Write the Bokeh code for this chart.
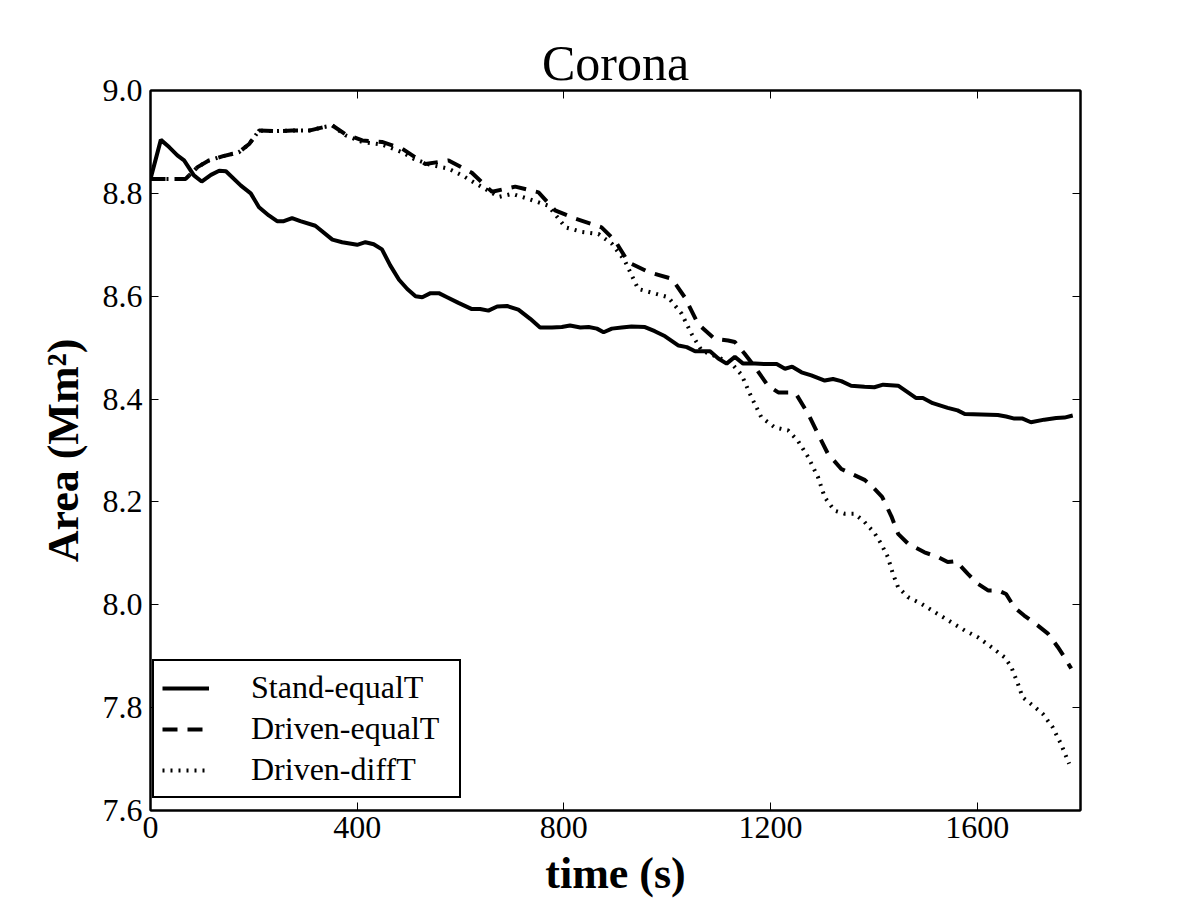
from bokeh.plotting import figure
from bokeh.models import (Range1d, FixedTicker, LinearAxis, NumeralTickFormatter,
                          Legend, LegendItem, ColumnDataSource)
from bokeh.embed import file_html
from bokeh.resources import INLINE

# Coronal area (Mm^2) versus time (s) for three simulation runs
stand_t = [0, 20, 36, 52, 65, 84, 99, 117, 133, 146, 175, 194, 210, 229, 245, 258, 274, 290,
           319, 352, 371, 400, 416, 432, 448, 464, 481, 497, 513, 526, 542, 558, 574, 596,
           622, 638, 654, 671, 690, 712, 735, 754, 777, 796, 812, 832, 848, 864, 877, 893,
           912, 931, 957, 976, 996, 1022, 1038, 1054, 1083, 1099, 1115, 1131, 1147, 1170,
           1189, 1212, 1228, 1242, 1260, 1279, 1305, 1321, 1337, 1356, 1382, 1401, 1418,
           1447, 1466, 1482, 1495, 1514, 1543, 1562, 1576, 1608, 1640, 1656, 1672, 1688,
           1704, 1730, 1753, 1769, 1785]
stand_area = [8.828, 8.904, 8.890, 8.874, 8.864, 8.835, 8.823, 8.836, 8.844, 8.843, 8.815,
              8.800, 8.773, 8.757, 8.746, 8.746, 8.752, 8.746, 8.737, 8.710, 8.705, 8.700,
              8.705, 8.701, 8.691, 8.660, 8.632, 8.614, 8.600, 8.598, 8.606, 8.606, 8.598,
              8.587, 8.575, 8.575, 8.572, 8.580, 8.581, 8.574, 8.556, 8.539, 8.539, 8.540,
              8.543, 8.539, 8.540, 8.537, 8.530, 8.537, 8.539, 8.541, 8.540, 8.532, 8.522,
              8.504, 8.501, 8.493, 8.493, 8.479, 8.469, 8.482, 8.469, 8.469, 8.468, 8.468,
              8.459, 8.463, 8.452, 8.446, 8.436, 8.439, 8.435, 8.426, 8.424, 8.423, 8.428,
              8.426, 8.413, 8.402, 8.402, 8.392, 8.383, 8.378, 8.371, 8.370, 8.369, 8.366,
              8.362, 8.362, 8.355, 8.360, 8.363, 8.364, 8.368]

driven_eq_t = [0, 68, 91, 113, 139, 171, 191, 210, 242, 274, 307, 336, 352, 377, 410, 448,
               487, 532, 577, 622, 661, 706, 751, 783, 822, 873, 899, 925, 964, 1009, 1034,
               1060, 1092, 1118, 1131, 1150, 1170, 1195, 1215, 1241, 1250, 1273, 1292, 1311,
               1337, 1356, 1382, 1395, 1416, 1434, 1447, 1466, 1498, 1524, 1543, 1559, 1582,
               1601, 1621, 1640, 1656, 1672, 1691, 1717, 1737, 1756, 1769, 1782]
driven_eq_area = [8.828, 8.828, 8.851, 8.864, 8.872, 8.880, 8.896, 8.922, 8.921, 8.922,
                  8.922, 8.929, 8.932, 8.915, 8.903, 8.900, 8.887, 8.857, 8.864, 8.840,
                  8.803, 8.813, 8.802, 8.767, 8.751, 8.734, 8.708, 8.666, 8.647, 8.634,
                  8.598, 8.546, 8.517, 8.514, 8.511, 8.488, 8.462, 8.426, 8.413, 8.413,
                  8.409, 8.371, 8.332, 8.294, 8.264, 8.255, 8.243, 8.232, 8.210, 8.172,
                  8.138, 8.119, 8.102, 8.093, 8.083, 8.085, 8.060, 8.041, 8.028, 8.028,
                  8.021, 7.995, 7.979, 7.960, 7.944, 7.918, 7.898, 7.876]

driven_diff_t = [0, 68, 91, 113, 139, 171, 191, 210, 242, 274, 307, 336, 352, 377, 410, 448,
                 487, 510, 540, 577, 603, 642, 674, 700, 732, 770, 803, 835, 867, 893, 918,
                 944, 977, 1002, 1028, 1047, 1067, 1099, 1125, 1144, 1163, 1182, 1208, 1234,
                 1253, 1273, 1292, 1305, 1324, 1344, 1363, 1382, 1401, 1414, 1427, 1437,
                 1447, 1466, 1492, 1524, 1550, 1576, 1601, 1627, 1653, 1666, 1679, 1688,
                 1708, 1727, 1746, 1762, 1778]
driven_diff_area = [8.828, 8.828, 8.851, 8.864, 8.872, 8.880, 8.896, 8.922, 8.921, 8.922,
                    8.922, 8.929, 8.932, 8.913, 8.900, 8.895, 8.880, 8.867, 8.856, 8.848,
                    8.835, 8.812, 8.793, 8.799, 8.789, 8.776, 8.734, 8.725, 8.721, 8.702,
                    8.669, 8.614, 8.605, 8.598, 8.566, 8.527, 8.494, 8.481, 8.469, 8.447,
                    8.404, 8.365, 8.345, 8.339, 8.319, 8.287, 8.248, 8.209, 8.183, 8.177,
                    8.177, 8.161, 8.140, 8.119, 8.093, 8.060, 8.034, 8.015, 8.002, 7.982,
                    7.966, 7.950, 7.937, 7.918, 7.898, 7.879, 7.846, 7.820, 7.804, 7.788,
                    7.762, 7.730, 7.691]

series_labels = ["Stand-equalT", "Driven-equalT", "Driven-diffT"]
x_ticks = [0, 400, 800, 1200, 1600]
y_ticks = [7.6, 7.8, 8.0, 8.2, 8.4, 8.6, 8.8, 9.0]

SERIF = "Liberation Serif"

p = figure(width=1200, height=900, output_backend="svg", toolbar_location=None,
           x_range=Range1d(0, 1800), y_range=Range1d(7.6, 9.0),
           min_border_left=150, min_border_right=120, min_border_top=90,
           min_border_bottom=90, title="Corona")

p.background_fill_color = "white"
p.border_fill_color = "white"
p.outline_line_color = "black"
p.outline_line_width = 2
p.xgrid.visible = False
p.ygrid.visible = False

p.title.text_font = SERIF
p.title.text_font_size = "50px"
p.title.text_font_style = "normal"
p.title.align = "center"
p.title.text_color = "black"
p.title.standoff = 0

p.xaxis.ticker = FixedTicker(ticks=x_ticks)
p.yaxis.ticker = FixedTicker(ticks=y_ticks)
p.yaxis.formatter = NumeralTickFormatter(format="0.0")
p.xaxis.axis_label = "time (s)"
p.yaxis.axis_label = "Area (Mm²)"

for ax in (p.xaxis[0], p.yaxis[0]):
    ax.axis_line_width = 2
    ax.axis_line_color = "black"
    ax.major_tick_in = 8
    ax.major_tick_out = 0
    ax.major_tick_line_width = 1
    ax.minor_tick_line_color = None
    ax.major_label_text_font = SERIF
    ax.major_label_text_font_size = "32px"
    ax.major_label_text_color = "black"
    ax.axis_label_text_font = SERIF
    ax.axis_label_text_font_size = "44px"
    ax.axis_label_text_font_style = "bold"
    ax.axis_label_text_color = "black"
p.xaxis.major_label_standoff = 6
p.xaxis.axis_label_standoff = 8
p.yaxis.major_label_standoff = 8
p.yaxis.axis_label_standoff = 12

# mirrored ticks on the top and right edges of the frame, without labels
top_axis = LinearAxis(ticker=FixedTicker(ticks=x_ticks), major_tick_in=8, major_tick_out=0,
                      minor_tick_line_color=None, major_label_text_color=None,
                      major_label_standoff=0, axis_line_width=2)
right_axis = LinearAxis(ticker=FixedTicker(ticks=y_ticks), major_tick_in=8, major_tick_out=0,
                        minor_tick_line_color=None, major_label_text_color=None,
                        major_label_standoff=0, axis_line_width=2)
p.add_layout(top_axis, "above")
p.add_layout(right_axis, "right")

src_stand = ColumnDataSource(dict(t=stand_t, area=stand_area))
src_eq = ColumnDataSource(dict(t=driven_eq_t, area=driven_eq_area))
src_diff = ColumnDataSource(dict(t=driven_diff_t, area=driven_diff_area))

r_stand = p.line("t", "area", source=src_stand, line_color="black", line_width=4)
r_eq = p.line("t", "area", source=src_eq, line_color="black", line_width=4,
              line_dash="15 10")
r_diff = p.line("t", "area", source=src_diff, line_color="black", line_width=4,
                line_dash="2 6")

legend = Legend(items=[LegendItem(label=series_labels[0], renderers=[r_stand]),
                       LegendItem(label=series_labels[1], renderers=[r_eq]),
                       LegendItem(label=series_labels[2], renderers=[r_diff])],
                location=(2, 12))
legend.border_line_color = "black"
legend.border_line_width = 2
legend.border_line_alpha = 1
legend.background_fill_color = "white"
legend.background_fill_alpha = 1
legend.label_text_font = SERIF
legend.label_text_font_size = "32px"
legend.label_text_color = "black"
legend.glyph_width = 47
legend.glyph_height = 36
legend.label_height = 36
legend.label_width = 200
legend.spacing = 4
legend.padding = 8
legend.label_standoff = 42
legend.margin = 0
p.add_layout(legend)

open("out.html", "w").write(file_html(p, INLINE))
